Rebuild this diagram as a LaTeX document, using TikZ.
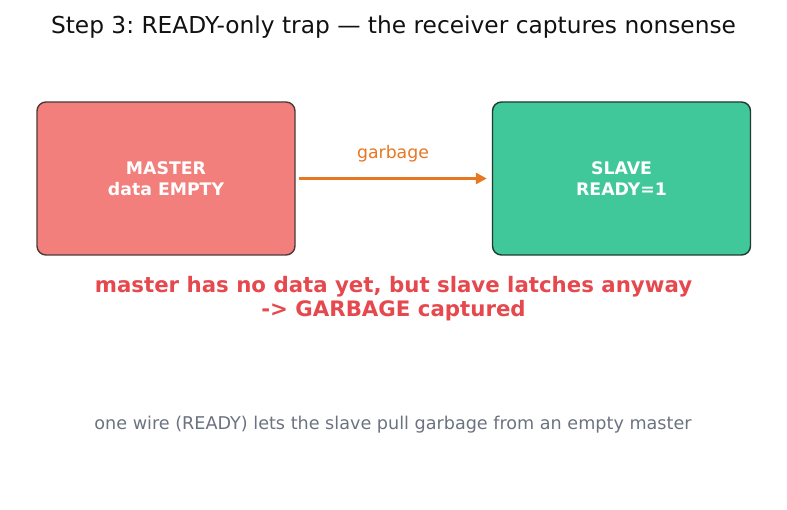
\documentclass[tikz,border=0pt]{standalone}
\usepackage{fontspec}
\setmainfont{DejaVu Sans}
\usetikzlibrary{arrows.meta}
\frenchspacing
\definecolor{masterfill}{HTML}{F27F7B}
\definecolor{masterline}{HTML}{4A3A3A}
\definecolor{slavefill}{HTML}{40C89A}
\definecolor{slaveline}{HTML}{1F3A32}
\definecolor{arroworange}{HTML}{E87722}
\definecolor{warnred}{HTML}{E5484D}
\definecolor{notegrey}{HTML}{6B7280}
\definecolor{titleblack}{HTML}{111111}
\tikzset{
  box/.style={rectangle, rounded corners=9pt, line width=1.4pt, minimum width=258pt, minimum height=153pt, inner sep=0pt, align=center, text=white, font=\fontsize{17.3}{20.5}\selectfont\bfseries},
  masterbox/.style={box, fill=masterfill, draw=masterline},
  slavebox/.style={box, fill=slavefill, draw=slaveline},
  flow/.style={draw=arroworange, line width=2.8pt, -{Triangle[length=11pt,width=11pt]}, shorten <=3pt, shorten >=5pt},
}
\begin{document}
\begin{tikzpicture}[x=1pt,y=-1pt]
\useasboundingbox (0,0) rectangle (787,510);
\node[text=titleblack, font=\fontsize{23.3}{27}\selectfont\frenchspacing, inner sep=0pt] (title) at (393.5,27) {Step 3: READY-only trap — the receiver captures nonsense};
\node[masterbox] (master) at (166,178.5) {MASTER\\data EMPTY};
\node[slavebox] (slave) at (621.5,178.5) {SLAVE\\READY=1};
\draw[flow] (master.east) -- (slave.west);
\node[text=arroworange, font=\fontsize{17.3}{20}\selectfont, inner sep=0pt] (lbl) at (393,153.5) {garbage};
\node[text=warnred, font=\fontsize{21.3}{23.5}\selectfont\bfseries\frenchspacing, align=center, inner sep=0pt] (warn) at (393.5,298.5) {master has no data yet, but slave latches anyway\\-> GARBAGE captured};
\node[text=notegrey, font=\fontsize{17.6}{20}\selectfont\frenchspacing, inner sep=0pt] (note) at (393,425) {one wire (READY) lets the slave pull garbage from an empty master};
\end{tikzpicture}
\end{document}
